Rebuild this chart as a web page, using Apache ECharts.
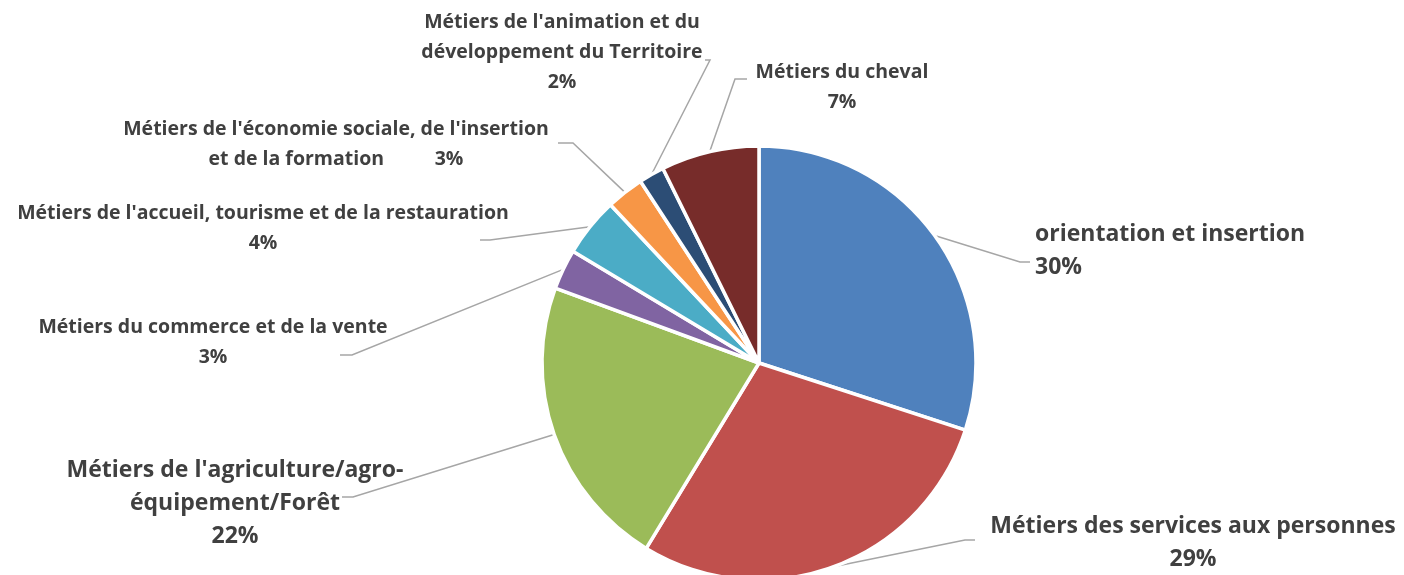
<!DOCTYPE html>
<html>
<head>
<meta charset="utf-8">
<script src="https://cdn.jsdelivr.net/npm/echarts@6/dist/echarts.min.js"></script>
<style>
  html, body { margin: 0; padding: 0; background: #ffffff; }
  #chart { width: 1404px; height: 575px; }
</style>
</head>
<body>
<div id="chart"></div>
<script>
// ---- Data ----
const categories = [
  "orientation et insertion",
  "Métiers des services aux personnes",
  "Métiers de l'agriculture/agro-\néquipement/Forêt",
  "Métiers du commerce et de la vente",
  "Métiers de l'accueil, tourisme et de la restauration",
  "Métiers de l'économie sociale, de l'insertion\net de la formation",
  "Métiers de l'animation et du\ndéveloppement du Territoire",
  "Métiers du cheval"
];
const shares = [30.0, 28.7, 21.9, 3.0, 4.4, 2.8, 1.9, 7.3];

// ---- Styles / layout (kept apart from data) ----
const colors = ['#4F81BD', '#C0504D', '#9BBB59', '#8064A2', '#4BACC6', '#F79646', '#2C4D75', '#772C2A'];
const bigLabel = [true, true, true, false, false, false, false, false];
const pctInline = [false, false, false, false, false, true, false, false];
// label block anchor [x, y, align]
const labelPos = [
  [1035, 251, 'left'],
  [1193, 543, 'center'],
  [235, 503, 'center'],
  [213, 342, 'center'],
  [263, 228, 'center'],
  [336, 144, 'center'],
  [562, 52, 'center'],
  [842, 87, 'center']
];
// leader line elbow and end points
const guides = [
  [[1020, 262], [1030, 262]],
  [[965, 540], [975, 540]],
  [[353, 497], [342, 497]],
  [[352, 355], [340, 355]],
  [[490, 240], [480, 240]],
  [[573, 143], [558, 143]],
  [[710, 60], [705, 60]],
  [[735, 79], [747, 79]]
];

const chart = echarts.init(document.getElementById('chart'), null, { renderer: 'canvas' });

const data = categories.map((c, i) => ({
  name: c,
  value: shares[i],
  itemStyle: { color: colors[i] },
  label: bigLabel[i]
    ? { fontSize: 23, lineHeight: 33 }
    : { fontSize: 19.5, lineHeight: 30 }
}));

chart.setOption({
  animation: false,
  backgroundColor: '#ffffff',
  series: [{
    type: 'pie',
    center: [759, 363],
    radius: 217,
    startAngle: 90,
    clockwise: true,
    avoidLabelOverlap: false,
    percentPrecision: 0,
    emphasis: { disabled: true },
    itemStyle: { borderColor: '#ffffff', borderWidth: 3.5 },
    label: {
      show: true,
      position: 'outside',
      fontFamily: '"Open Sans", "Noto Sans", sans-serif',
      fontWeight: 'bold',
      color: '#404040',
      formatter: function (p) {
        return p.name + (pctInline[p.dataIndex] ? '          ' : '\n') + p.percent + '%';
      }
    },
    labelLine: {
      show: true,
      length: 20,
      length2: 10,
      lineStyle: { color: '#A6A6A6', width: 1.5 }
    },
    labelLayout: function (params) {
      const i = params.dataIndex;
      const pos = labelPos[i];
      const g = guides[i];
      const start = params.labelLinePoints && params.labelLinePoints[0]
        ? params.labelLinePoints[0] : g[0];
      return {
        x: pos[0],
        y: pos[1],
        align: pos[2],
        verticalAlign: 'middle',
        labelLinePoints: [[start[0], start[1]], g[0], g[1]]
      };
    },
    data: data
  }]
});
</script>
</body>
</html>
